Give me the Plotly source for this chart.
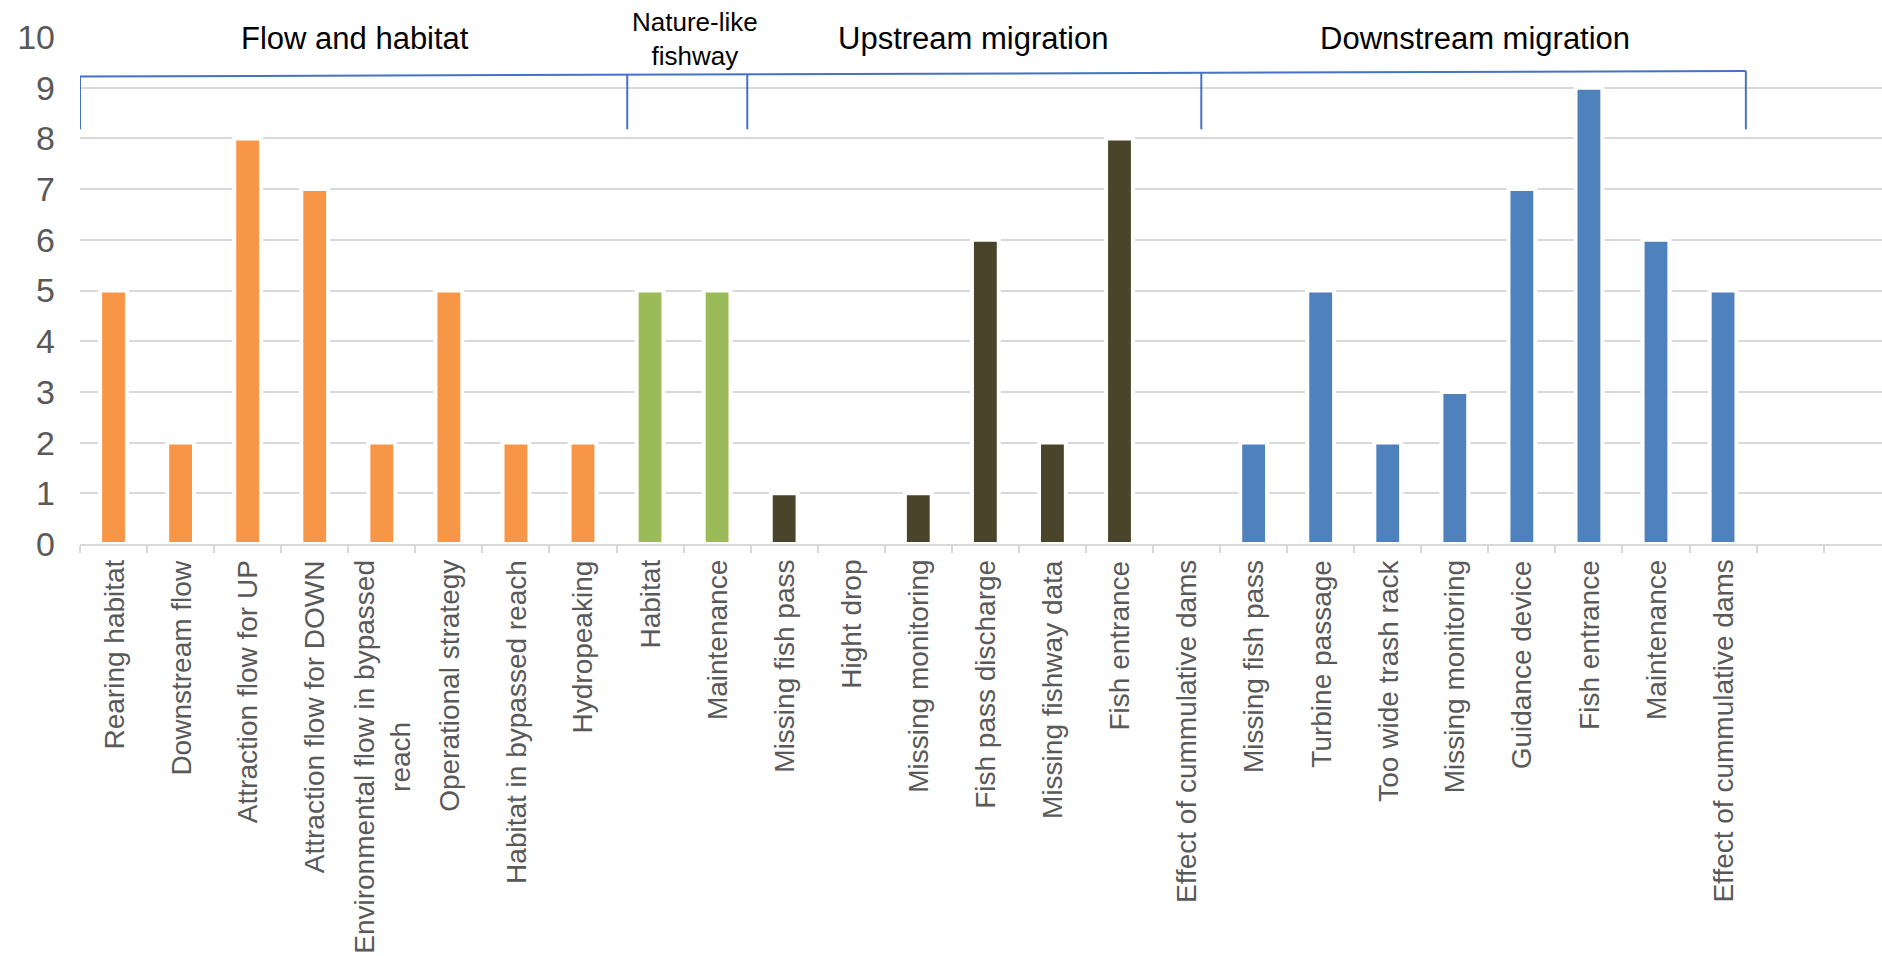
import plotly.graph_objects as go

# Issues per group, in axis order
flow_labels = ["Rearing habitat", "Downstream flow", "Attraction flow for UP",
               "Attraction flow for DOWN", "Environmental flow in bypassed<br>reach",
               "Operational strategy", "Habitat in bypassed reach", "Hydropeaking"]
flow_values = [5, 2, 8, 7, 2, 5, 2, 2]

nature_labels = ["Habitat", "Maintenance"]
nature_values = [5, 5]

up_labels = ["Missing fish pass", "Hight drop", "Missing monitoring", "Fish pass discharge",
             "Missing fishway data", "Fish entrance", "Effect of cummulative dams"]
up_values = [1, 0, 1, 6, 2, 8, 0]

down_labels = ["Missing fish pass", "Turbine passage", "Too wide trash rack",
               "Missing monitoring", "Guidance device", "Fish entrance", "Maintenance",
               "Effect of cummulative dams"]
down_values = [2, 5, 2, 3, 7, 9, 6, 5]

group_names = ["Flow and habitat", "Nature-like<br>fishway", "Upstream migration",
               "Downstream migration"]
group_colors = ["#F79646", "#9BBB59", "#4A452A", "#4F81BD"]

# bracket drawn over the groups: x positions of the drop lines (category units)
bracket_x = [-0.5, 7.66, 9.45, 16.22, 24.34]
bracket_top = (9.22, 9.33)   # y at left end, y at right end
bracket_bottom = 8.18
# group caption positions (category units, value units)
caption_x = [3.6, 8.67, 12.81, 20.3]
caption_y = [9.97, 9.97, 9.97, 9.97]
caption_size = [31, 26, 31, 31]

groups = [(flow_labels, flow_values), (nature_labels, nature_values),
          (up_labels, up_values), (down_labels, down_values)]

FONT = "Liberation Sans, Arial, sans-serif"
GREY = "#595959"

fig = go.Figure()
all_labels = []
start = 0
for (labels, values), color in zip(groups, group_colors):
    xs = list(range(start, start + len(labels)))
    fig.add_trace(go.Bar(
        x=xs, y=values, width=0.4,
        marker=dict(color=color, line=dict(color="white", width=4)),
        showlegend=False, hoverinfo="y",
    ))
    all_labels += labels
    start += len(labels)

fig.update_layout(
    width=1882, height=956,
    margin=dict(l=80, r=0, t=37, b=412, pad=0),
    paper_bgcolor="white", plot_bgcolor="white",
    xaxis=dict(
        range=[-0.5, 26.37],
        tickmode="array",
        tickvals=list(range(len(all_labels))),
        showticklabels=False,
        ticks="",
        showgrid=False, zeroline=False,
        showline=True, linecolor="#D9D9D9", linewidth=2,
        minor=dict(tickmode="linear", tick0=-0.5, dtick=1, ticks="outside",
                   ticklen=7, tickwidth=2, tickcolor="#D9D9D9", showgrid=False),
    ),
    yaxis=dict(
        range=[0, 10],
        tickmode="linear", tick0=0, dtick=1,
        tickfont=dict(size=34, family=FONT, color=GREY),
        ticklabelstandoff=24,
        showgrid=True, gridcolor="#D9D9D9", gridwidth=2,
        zeroline=False, showline=False, ticks="",
    ),
)

# category labels, rotated and centred line by line under each slot
for i, lab in enumerate(all_labels):
    fig.add_annotation(x=i, y=0, xref="x", yref="y", text=lab, textangle=-90,
                       showarrow=False, xanchor="center", yanchor="top",
                       align="center", yshift=-14,
                       font=dict(family=FONT, size=28, color=GREY))

# bracket: slanted top bar with drop lines
x_left, x_right = bracket_x[0], bracket_x[-1]
y_left, y_right = bracket_top
def top_at(x):
    return y_left + (y_right - y_left) * (x - x_left) / (x_right - x_left)

line_style = dict(color="#4472C4", width=2)
fig.add_shape(type="line", xref="x", yref="y", x0=x_left, y0=y_left,
              x1=x_right, y1=y_right, line=line_style)
for bx in bracket_x:
    fig.add_shape(type="line", xref="x", yref="y", x0=bx, y0=top_at(bx),
                  x1=bx, y1=bracket_bottom, line=line_style)

for name, cx, cy, sz in zip(group_names, caption_x, caption_y, caption_size):
    fig.add_annotation(x=cx, y=cy, xref="x", yref="y", text=name, showarrow=False,
                       align="center",
                       font=dict(family=FONT, size=sz, color="black"))

fig.write_html("out.html")
